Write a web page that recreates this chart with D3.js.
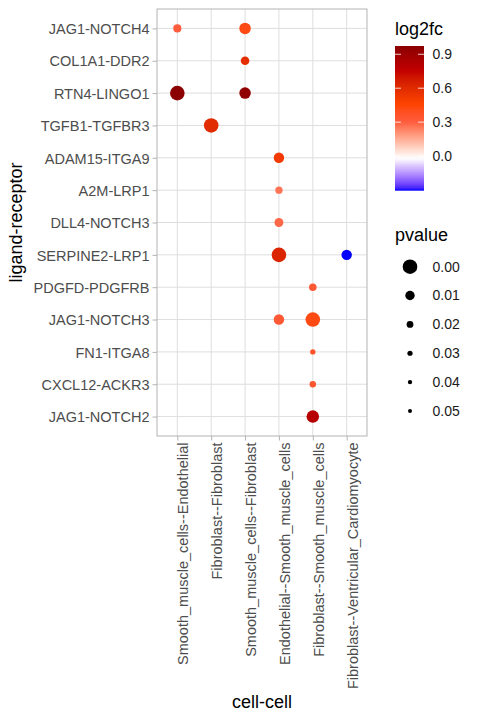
<!DOCTYPE html>
<html>
<head>
<meta charset="utf-8">
<script src="https://cdn.jsdelivr.net/npm/d3@7"></script>
<style>
  body { margin: 0; background: #fff; }
  svg { display: block; font-family: "Liberation Sans", Arial, sans-serif; }
</style>
</head>
<body>
<div id="chart"></div>
<script>
// categories
var pairs = ["JAG1-NOTCH4", "COL1A1-DDR2", "RTN4-LINGO1", "TGFB1-TGFBR3", "ADAM15-ITGA9",
  "A2M-LRP1", "DLL4-NOTCH3", "SERPINE2-LRP1", "PDGFD-PDGFRB", "JAG1-NOTCH3",
  "FN1-ITGA8", "CXCL12-ACKR3", "JAG1-NOTCH2"];
var cells = ["Smooth_muscle_cells--Endothelial", "Fibroblast--Fibroblast",
  "Smooth_muscle_cells--Fibroblast", "Endothelial--Smooth_muscle_cells",
  "Fibroblast--Smooth_muscle_cells", "Fibroblast--Ventricular_Cardiomyocyte"];

// points
var ptPair = ["JAG1-NOTCH4", "JAG1-NOTCH4", "COL1A1-DDR2", "RTN4-LINGO1", "RTN4-LINGO1",
  "TGFB1-TGFBR3", "ADAM15-ITGA9", "A2M-LRP1", "DLL4-NOTCH3", "SERPINE2-LRP1", "SERPINE2-LRP1",
  "PDGFD-PDGFRB", "JAG1-NOTCH3", "JAG1-NOTCH3", "FN1-ITGA8", "CXCL12-ACKR3", "JAG1-NOTCH2"];
var ptCell = [0, 2, 2, 0, 2, 1, 3, 3, 3, 3, 5, 4, 3, 4, 4, 4, 4];
var log2fc = [0.30, 0.42, 0.58, 0.973, 0.95, 0.60, 0.52, 0.26, 0.28, 0.63, -0.306,
  0.33, 0.33, 0.42, 0.36, 0.34, 0.80];
var pvalue = [0.015, 0.006, 0.013, 0.0, 0.006, 0.0, 0.008, 0.018, 0.012, 0.0, 0.008,
  0.017, 0.008, 0.0, 0.029, 0.022, 0.004];

// legend ticks
var fcTicks = [0.0, 0.3, 0.6, 0.9];
var pTicks = [0.00, 0.01, 0.02, 0.03, 0.04, 0.05];

var svg = d3.select("#chart").append("svg")
  .attr("width", 480).attr("height", 720);
svg.append("rect").attr("width", 480).attr("height", 720).attr("fill", "#fff");

var panel = {left: 157, right: 367, top: 9, bottom: 436};

// discrete scales with ggplot's 0.6 expansion
var x = d3.scalePoint().domain(cells)
  .range([panel.left, panel.right]).padding(0.6);
var y = d3.scalePoint().domain(pairs)
  .range([panel.top, panel.bottom]).padding(0.6);

var color = d3.scaleLinear()
  .domain([-0.306, -0.02, 0.3, 0.45, 0.75, 0.973])
  .range(["#0000ff", "#ffffff", "#ff5c3e", "#ff4500", "#c40000", "#8b0000"])
  .interpolate(d3.interpolateLab);
var size = d3.scaleLinear().domain(pTicks).range([7.3, 4.7, 3.4, 2.6, 2.2, 2.0]);

// grid
svg.append("g").selectAll("line").data(cells).enter().append("line")
  .attr("x1", function(d) { return x(d); }).attr("x2", function(d) { return x(d); })
  .attr("y1", panel.top).attr("y2", panel.bottom)
  .attr("stroke", "#dedede").attr("stroke-width", 1);
svg.append("g").selectAll("line").data(pairs).enter().append("line")
  .attr("y1", function(d) { return y(d); }).attr("y2", function(d) { return y(d); })
  .attr("x1", panel.left).attr("x2", panel.right)
  .attr("stroke", "#dedede").attr("stroke-width", 1);

// axes
var yAxis = svg.append("g")
  .attr("transform", "translate(" + panel.left + ",0)")
  .call(d3.axisLeft(y).tickSize(4.5).tickPadding(3));
var xAxis = svg.append("g")
  .attr("transform", "translate(0," + panel.bottom + ")")
  .call(d3.axisBottom(x).tickSize(4.5).tickPadding(3));
[xAxis, yAxis].forEach(function(a) {
  a.select(".domain").remove();
  a.selectAll(".tick line").attr("stroke", "#b3b3b3");
  a.selectAll("text").attr("fill", "#4d4d4d").style("font-size", "14.5px")
    .attr("font-family", null);
});
yAxis.selectAll("text").attr("dy", "0.36em");
xAxis.selectAll("text")
  .attr("y", null).attr("dy", null)
  .attr("text-anchor", "end")
  .attr("transform", "translate(10.5,6.5) rotate(-90)");

// panel border
svg.append("rect")
  .attr("x", panel.left).attr("y", panel.top)
  .attr("width", panel.right - panel.left).attr("height", panel.bottom - panel.top)
  .attr("fill", "none").attr("stroke", "#b3b3b3").attr("stroke-width", 1);

// points
var idx = d3.range(ptPair.length);
svg.append("g").selectAll("circle").data(idx).enter().append("circle")
  .attr("cx", function(i) { return x(cells[ptCell[i]]); })
  .attr("cy", function(i) { return y(ptPair[i]); })
  .attr("r", function(i) { return size(pvalue[i]); })
  .attr("fill", function(i) { return color(log2fc[i]); });

// axis titles
svg.append("text")
  .attr("x", (panel.left + panel.right) / 2).attr("y", 708)
  .attr("text-anchor", "middle").style("font-size", "18px").attr("fill", "#000")
  .text("cell-cell");
svg.append("text")
  .attr("transform", "translate(22," + (panel.top + panel.bottom) / 2 + ") rotate(-90)")
  .attr("text-anchor", "middle").style("font-size", "18px").attr("fill", "#000")
  .text("ligand-receptor");

// colour legend
var bar = {x: 395, w: 29, top: 46, bottom: 190.7};
var fcScale = d3.scaleLinear().domain([-0.306, 0.973]).range([bar.bottom, bar.top]);
var grad = svg.append("defs").append("linearGradient")
  .attr("id", "fcgrad").attr("x1", 0).attr("x2", 0).attr("y1", 1).attr("y2", 0);
d3.range(0, 1.0001, 0.02).forEach(function(t) {
  grad.append("stop").attr("offset", t)
    .attr("stop-color", color(fcScale.domain()[0] + t * (fcScale.domain()[1] - fcScale.domain()[0])));
});
svg.append("text").attr("x", 395).attr("y", 35)
  .style("font-size", "18px").attr("fill", "#000").text("log2fc");
svg.append("rect").attr("x", bar.x).attr("y", bar.top)
  .attr("width", bar.w).attr("height", bar.bottom - bar.top)
  .attr("fill", "url(#fcgrad)");
var fcg = svg.append("g").selectAll("g").data(fcTicks).enter().append("g");
fcg.append("line").attr("x1", bar.x).attr("x2", bar.x + 6)
  .attr("y1", function(d) { return fcScale(d); }).attr("y2", function(d) { return fcScale(d); })
  .attr("stroke", "#fff").attr("stroke-opacity", 0.8);
fcg.append("line").attr("x1", bar.x + bar.w - 6).attr("x2", bar.x + bar.w)
  .attr("y1", function(d) { return fcScale(d); }).attr("y2", function(d) { return fcScale(d); })
  .attr("stroke", "#fff").attr("stroke-opacity", 0.8);
fcg.append("text").attr("x", 432.5)
  .attr("y", function(d) { return fcScale(d); }).attr("dy", "0.35em")
  .style("font-size", "14px").attr("fill", "#1a1a1a")
  .text(function(d) { return d3.format(".1f")(d); });

// size legend
svg.append("text").attr("x", 395).attr("y", 241)
  .style("font-size", "18px").attr("fill", "#000").text("pvalue");
var pg = svg.append("g").selectAll("g").data(pTicks).enter().append("g")
  .attr("transform", function(d, i) { return "translate(0," + (266.7 + i * 28.85) + ")"; });
pg.append("circle").attr("cx", 410).attr("cy", 0)
  .attr("r", function(d) { return size(d); }).attr("fill", "#000");
pg.append("text").attr("x", 432.5).attr("dy", "0.35em")
  .style("font-size", "14px").attr("fill", "#1a1a1a")
  .text(function(d) { return d3.format(".2f")(d); });
</script>
</body>
</html>
